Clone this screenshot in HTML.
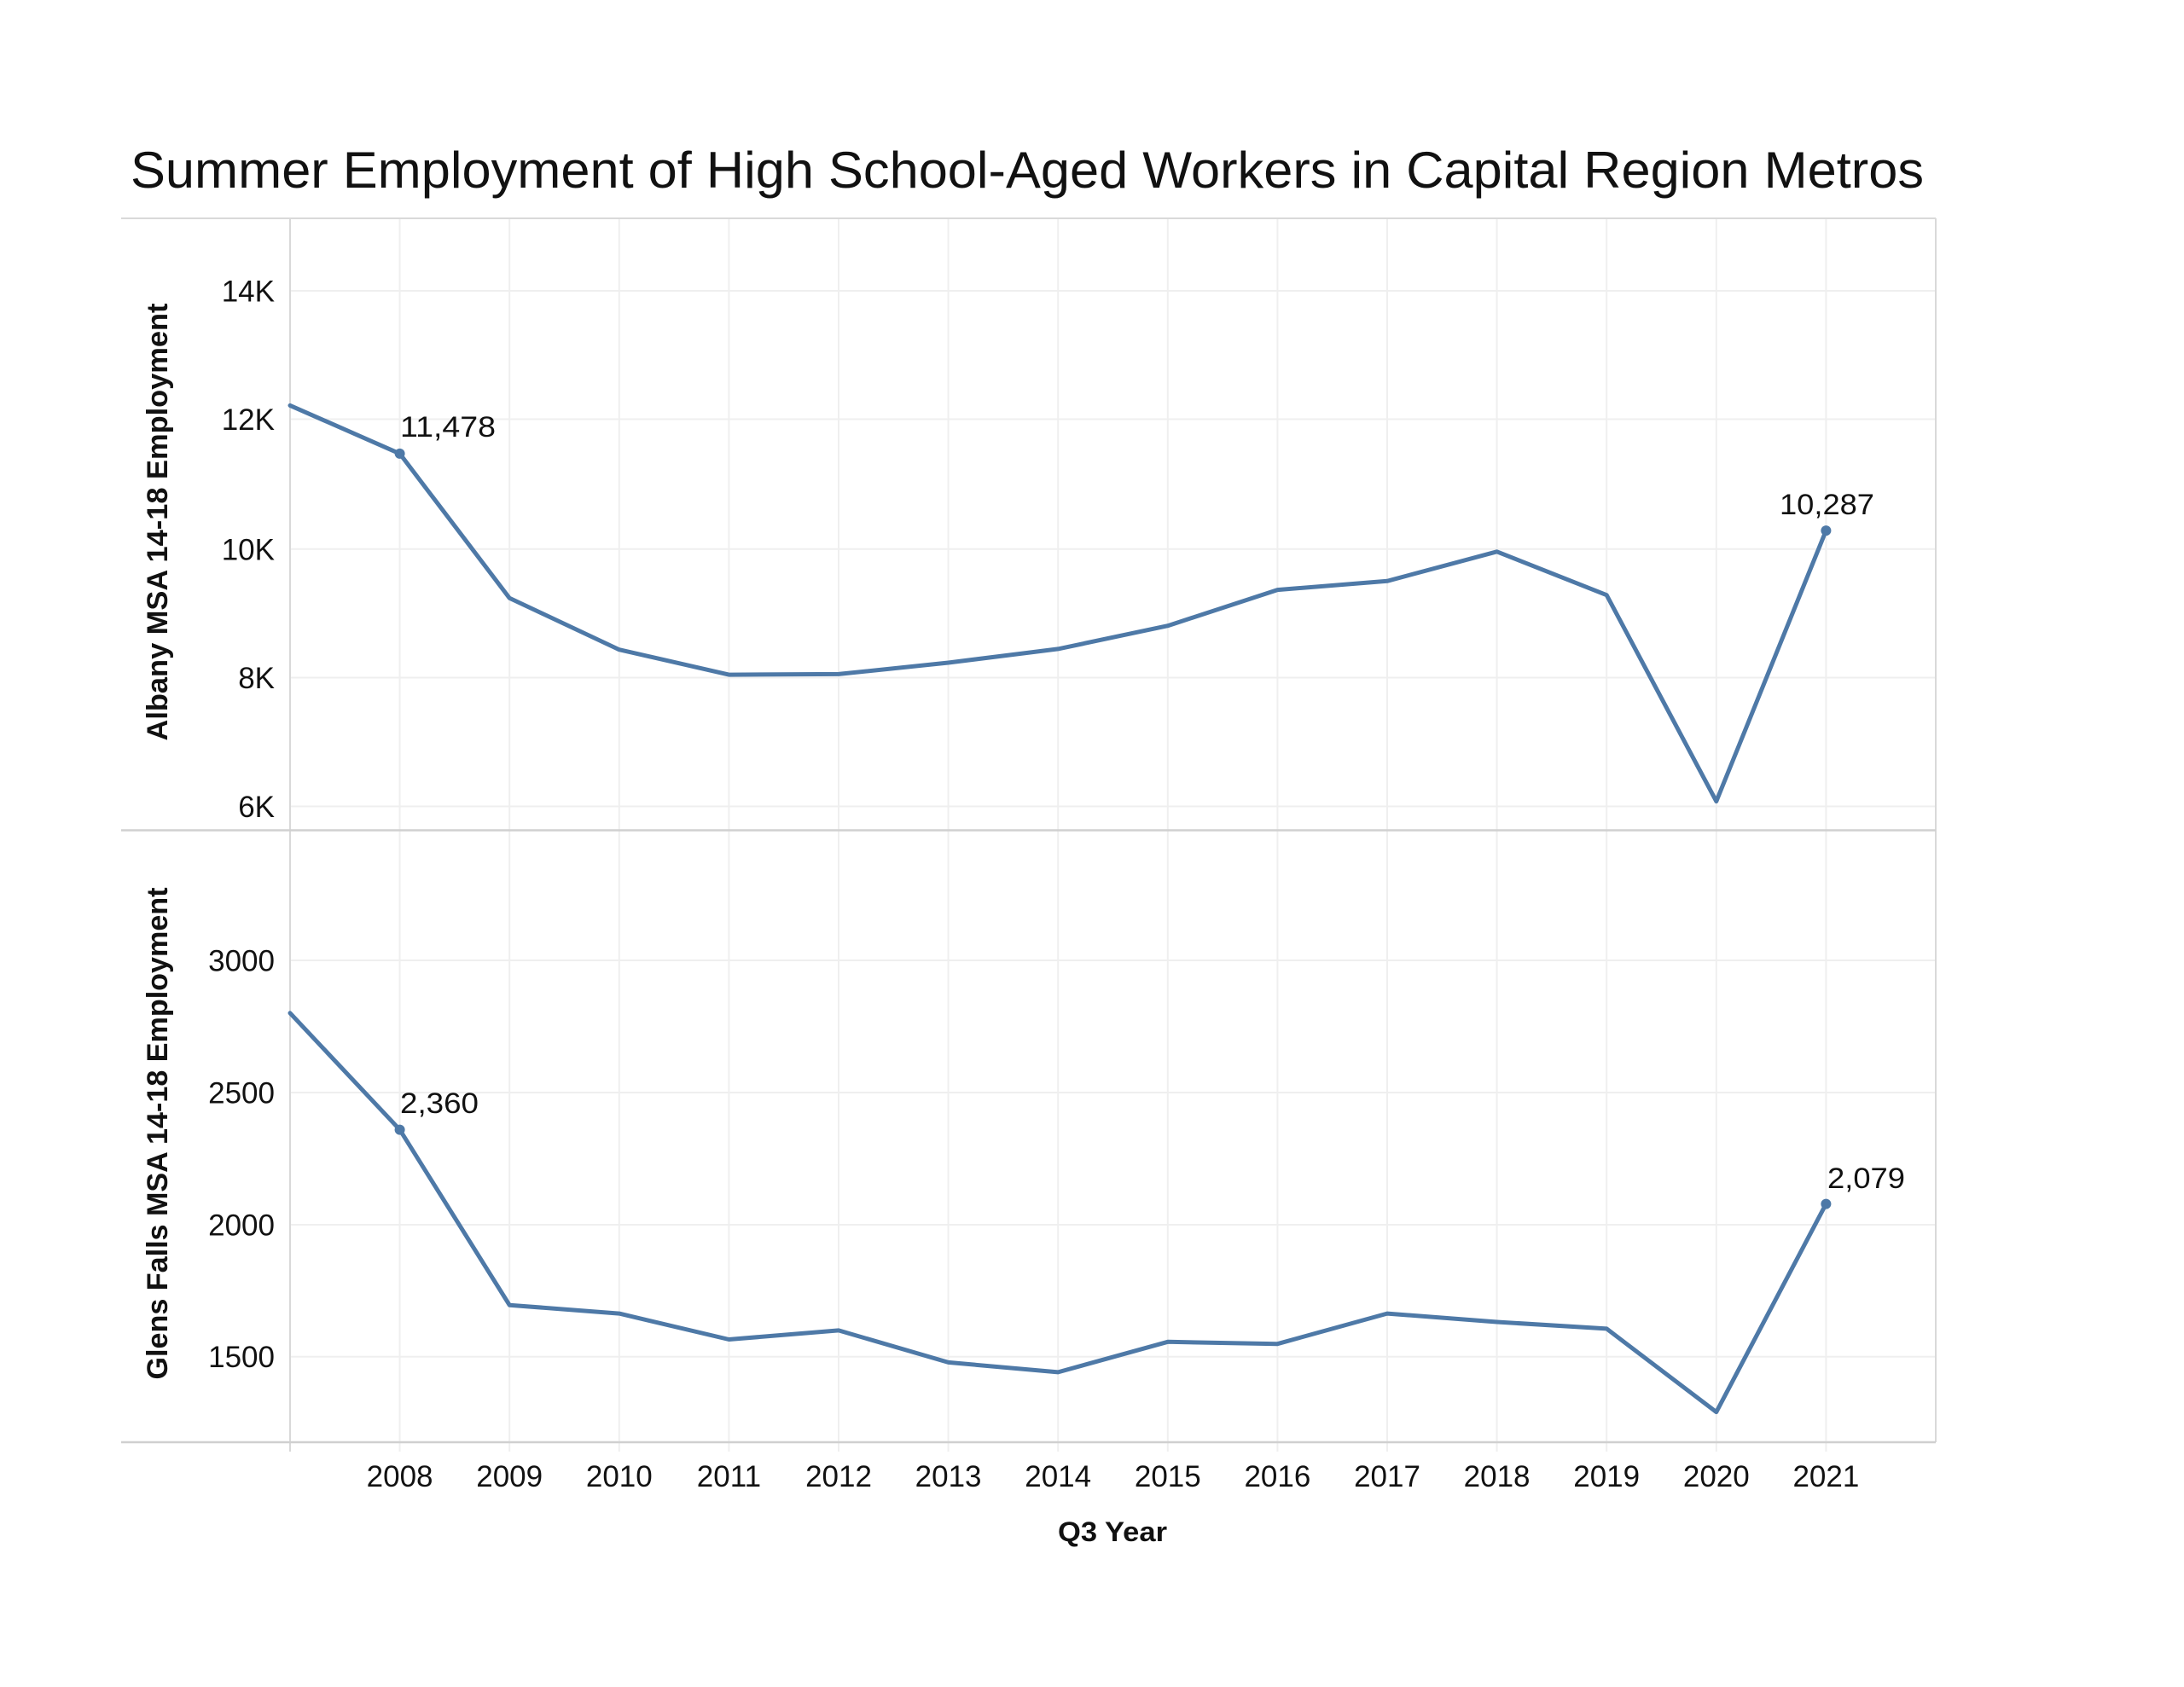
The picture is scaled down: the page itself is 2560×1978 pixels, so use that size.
<!DOCTYPE html>
<html>
<head>
<meta charset="utf-8">
<style>
  html, body { margin: 0; padding: 0; background: #ffffff; }
  svg { display: block; }
  text { font-family: "Liberation Sans", "DejaVu Sans", sans-serif; fill: #111; }
</style>
</head>
<body>
<svg width="2560" height="1978" viewBox="0 0 2560 1978" xmlns="http://www.w3.org/2000/svg">
  <rect x="0" y="0" width="2560" height="1978" fill="#ffffff"/>

  <!-- Title -->
  <text x="153" y="220" font-size="60" textLength="2102" lengthAdjust="spacingAndGlyphs">Summer Employment of High School-Aged Workers in Capital Region Metros</text>

  <!-- Horizontal gridlines: top panel -->
  <g stroke="#efefef" stroke-width="2">
    <line x1="340" y1="341" x2="2269" y2="341"/>
    <line x1="340" y1="491.5" x2="2269" y2="491.5"/>
    <line x1="340" y1="643.8" x2="2269" y2="643.8"/>
    <line x1="340" y1="794.5" x2="2269" y2="794.5"/>
    <line x1="340" y1="945.5" x2="2269" y2="945.5"/>
    <!-- bottom panel -->
    <line x1="340" y1="1126" x2="2269" y2="1126"/>
    <line x1="340" y1="1281" x2="2269" y2="1281"/>
    <line x1="340" y1="1436" x2="2269" y2="1436"/>
    <line x1="340" y1="1590.7" x2="2269" y2="1590.7"/>
  </g>

  <!-- Vertical gridlines -->
  <g stroke="#efefef" stroke-width="2">
    <line x1="468.6" y1="256" x2="468.6" y2="1702"/>
    <line x1="597.2" y1="256" x2="597.2" y2="1702"/>
    <line x1="725.8" y1="256" x2="725.8" y2="1702"/>
    <line x1="854.4" y1="256" x2="854.4" y2="1702"/>
    <line x1="983" y1="256" x2="983" y2="1702"/>
    <line x1="1111.6" y1="256" x2="1111.6" y2="1702"/>
    <line x1="1240.2" y1="256" x2="1240.2" y2="1702"/>
    <line x1="1368.8" y1="256" x2="1368.8" y2="1702"/>
    <line x1="1497.4" y1="256" x2="1497.4" y2="1702"/>
    <line x1="1626" y1="256" x2="1626" y2="1702"/>
    <line x1="1754.6" y1="256" x2="1754.6" y2="1702"/>
    <line x1="1883.2" y1="256" x2="1883.2" y2="1702"/>
    <line x1="2011.8" y1="256" x2="2011.8" y2="1702"/>
    <line x1="2140.4" y1="256" x2="2140.4" y2="1702"/>
  </g>

  <!-- Axis / border lines -->
  <g stroke="#d9d9d9" stroke-width="2">
    <line x1="142" y1="256" x2="2269" y2="256"/>
    <line x1="2269" y1="256" x2="2269" y2="1691"/>
    <line x1="340" y1="256" x2="340" y2="1702"/>
  </g>
  <g stroke="#d0d0d0" stroke-width="2.5">
    <line x1="142" y1="973.5" x2="2269" y2="973.5"/>
    <line x1="142" y1="1691" x2="2269" y2="1691"/>
  </g>

  <!-- Y tick labels top -->
  <g font-size="35" text-anchor="end">
    <text x="322" y="353.5">14K</text>
    <text x="322" y="504">12K</text>
    <text x="322" y="656.3">10K</text>
    <text x="322" y="807">8K</text>
    <text x="322" y="958">6K</text>
  </g>
  <!-- Y tick labels bottom -->
  <g font-size="35" text-anchor="end">
    <text x="322" y="1138.5">3000</text>
    <text x="322" y="1293.5">2500</text>
    <text x="322" y="1448.5">2000</text>
    <text x="322" y="1603">1500</text>
  </g>

  <!-- Y axis titles -->
  <text transform="translate(196,612) rotate(-90)" font-size="34" font-weight="bold" text-anchor="middle" textLength="513" lengthAdjust="spacingAndGlyphs">Albany MSA 14-18 Employment</text>
  <text transform="translate(196,1329) rotate(-90)" font-size="34" font-weight="bold" text-anchor="middle" textLength="577" lengthAdjust="spacingAndGlyphs">Glens Falls MSA 14-18 Employment</text>

  <!-- X tick labels -->
  <g font-size="35" text-anchor="middle">
    <text x="468.6" y="1743">2008</text>
    <text x="597.2" y="1743">2009</text>
    <text x="725.8" y="1743">2010</text>
    <text x="854.4" y="1743">2011</text>
    <text x="983" y="1743">2012</text>
    <text x="1111.6" y="1743">2013</text>
    <text x="1240.2" y="1743">2014</text>
    <text x="1368.8" y="1743">2015</text>
    <text x="1497.4" y="1743">2016</text>
    <text x="1626" y="1743">2017</text>
    <text x="1754.6" y="1743">2018</text>
    <text x="1883.2" y="1743">2019</text>
    <text x="2011.8" y="1743">2020</text>
    <text x="2140.4" y="1743">2021</text>
  </g>

  <!-- X axis title -->
  <text x="1240" y="1807" font-size="32" font-weight="bold" textLength="128" lengthAdjust="spacingAndGlyphs">Q3 Year</text>

  <!-- Top series -->
  <polyline fill="none" stroke="#4e79a7" stroke-width="5" stroke-linejoin="round" stroke-linecap="round"
    points="340,475.4 468.6,531.9 597.2,701.2 725.8,761.7 854.4,791.1 983,790.4 1111.6,777 1240.2,760.9 1368.8,733.7 1497.4,691.6 1626,681.3 1754.6,646.8 1883.2,697.7 2011.8,939.6 2140.4,622.1"/>
  <circle cx="468.6" cy="531.9" r="6" fill="#4e79a7"/>
  <circle cx="2140.4" cy="622.1" r="6" fill="#4e79a7"/>

  <!-- Bottom series -->
  <polyline fill="none" stroke="#4e79a7" stroke-width="5" stroke-linejoin="round" stroke-linecap="round"
    points="340,1187.8 468.6,1324.6 597.2,1530.2 725.8,1540.1 854.4,1570.5 983,1559.9 1111.6,1597.4 1240.2,1608.9 1368.8,1573.3 1497.4,1575.7 1626,1540.1 1754.6,1550 1883.2,1557.9 2011.8,1655.6 2140.4,1411.6"/>
  <circle cx="468.6" cy="1324.6" r="6" fill="#4e79a7"/>
  <circle cx="2140.4" cy="1411.6" r="6" fill="#4e79a7"/>

  <!-- Data labels -->
  <g font-size="34">
    <text x="469" y="512" textLength="112" lengthAdjust="spacingAndGlyphs">11,478</text>
    <text x="2086" y="603" textLength="111" lengthAdjust="spacingAndGlyphs">10,287</text>
    <text x="469" y="1305" textLength="92" lengthAdjust="spacingAndGlyphs">2,360</text>
    <text x="2142" y="1393" textLength="91" lengthAdjust="spacingAndGlyphs">2,079</text>
  </g>
</svg>
</body>
</html>
